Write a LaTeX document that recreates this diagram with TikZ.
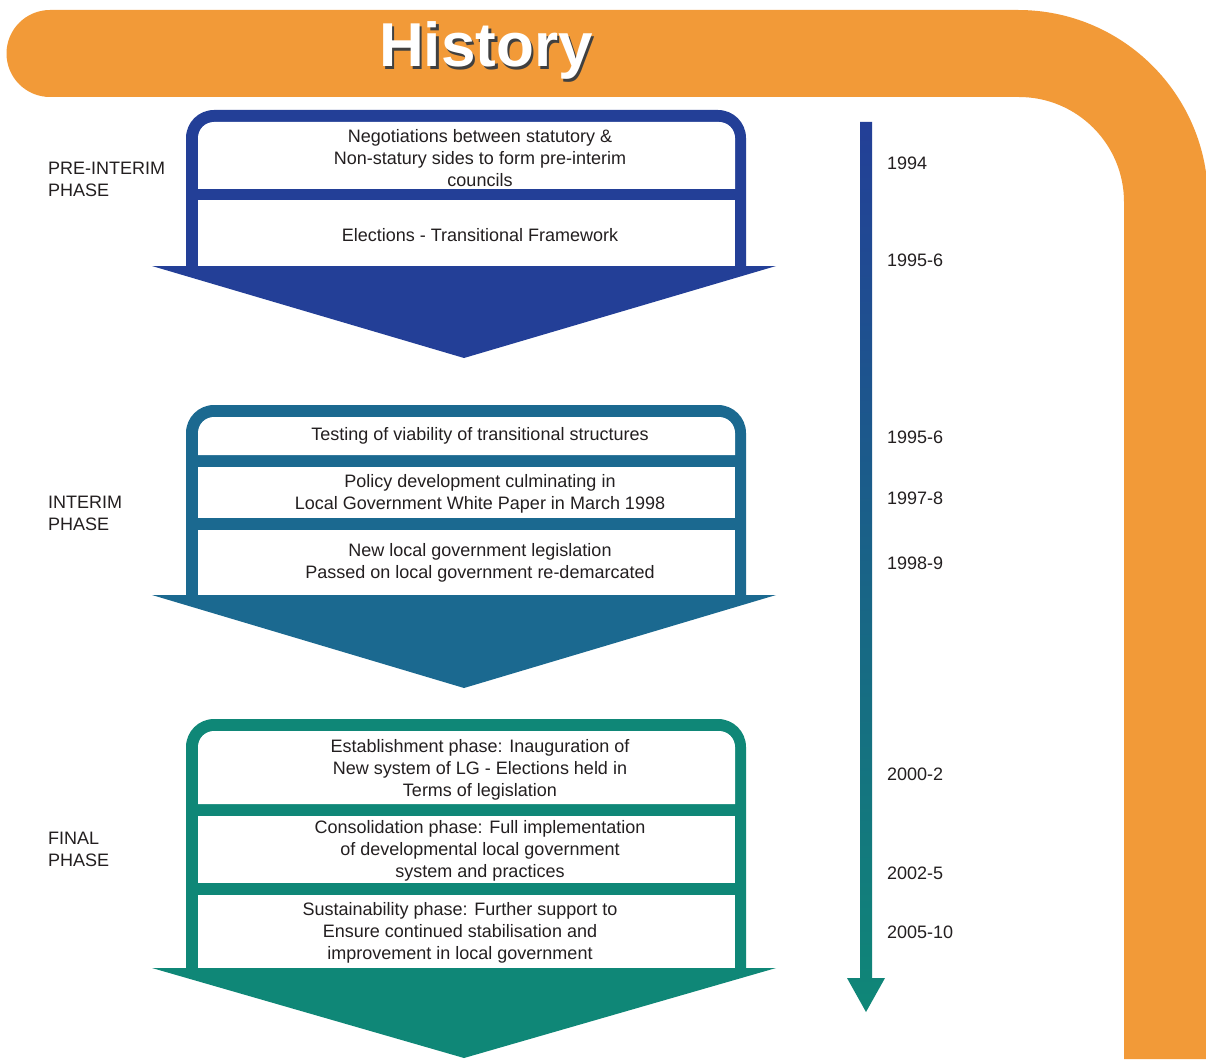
\documentclass[tikz,border=0pt]{standalone}
\usepackage{fontspec}
\setmainfont{Liberation Sans}
\definecolor{bandorange}{HTML}{F29A38}
\definecolor{phaseblue}{HTML}{233F97}
\definecolor{phasemid}{HTML}{1B6990}
\definecolor{phaseteal}{HTML}{0F8777}
\definecolor{inktext}{HTML}{231F20}

% outer frame (rounded top) plus the arrow head under it
% #1 colour, #2 top edge, #3 base of the head, #4 tip of the head
\newcommand\phaseframe[4]{%
  \fill[#1] (186,#3) -- (186,#2+28) arc[start angle=180,end angle=270,radius=28]
    -- (718,#2) arc[start angle=270,end angle=360,radius=28] -- (746,#3) -- cycle;
  \fill[#1] (152,#3) -- (776,#3) -- (464,#4) -- cycle;
}
% first white row, rounded at the top: #1 top, #2 bottom
\newcommand\toprow[2]{%
  \fill[white] (198,#2) -- (198,#1+16) arc[start angle=180,end angle=270,radius=16]
    -- (719,#1) arc[start angle=270,end angle=360,radius=16] -- (735,#2) -- cycle;
}
% plain white row: #1 top, #2 bottom
\newcommand\plainrow[2]{\fill[white] (198,#1) rectangle (735,#2);}
% white heading word with a dark drop shadow
\newcommand\shadowword[1]{%
  \rlap{\kern2.5pt\raisebox{-2.5pt}{\color{black!75}#1}}{\color{white}#1}}

\begin{document}
\begin{tikzpicture}[x=1pt,y=-1pt,
  rowtext/.style={text=inktext,align=center,inner sep=0pt,
    font=\fontsize{18}{22}\selectfont},
  phaselabel/.style={text=inktext,align=left,anchor=west,inner sep=0pt,
    font=\fontsize{18}{22}\selectfont},
  yearlabel/.style={text=inktext,anchor=west,inner sep=0pt,
    font=\fontsize{18}{22}\selectfont},
  titletext/.style={inner sep=0pt,font=\fontsize{62}{70}\bfseries\selectfont}]
\useasboundingbox (0,0) rectangle (1206,1059);
\fill[white] (0,0) rectangle (1206,1059);

% orange band: header bar bending down the right side
\fill[bandorange] (50,10) -- (1018,10) arc[start angle=270,end angle=360,radius=190]
  -- (1208,1059) -- (1124,1059) -- (1124,202) arc[start angle=0,end angle=-90,radius=105]
  -- (50,97) arc[start angle=90,end angle=270,radius=43.5] -- cycle;

\node[titletext] (title) at (486,52) {\shadowword{History}};

% timeline arrow
\shade[top color=phaseblue,bottom color=phaseteal]
  (860,122) -- (872,122) -- (872,978) -- (885,978) -- (866,1012)
  -- (847,978) -- (860,978) -- cycle;

% pre-interim phase
\phaseframe{phaseblue}{110}{266}{358}
\toprow{122}{189}
\plainrow{200}{266}
\node[rowtext] (neg) at (480,158) {Negotiations between statutory \&\\Non-statury sides to form pre-interim\\councils};
\node[rowtext] (elect) at (480,235) {Elections - Transitional Framework};

% interim phase
\phaseframe{phasemid}{405}{595}{688}
\toprow{417}{455}
\plainrow{467}{518}
\plainrow{530}{595}
\node[rowtext] (test) at (480,436) {Testing of viability of transitional structures};
\node[rowtext] (policy) at (480,494) {Policy development culminating in\\Local Government White Paper in March 1998};
\node[rowtext] (legis) at (480,563) {New local government legislation\\Passed on local government re-demarcated};

% final phase
\phaseframe{phaseteal}{719}{968}{1058}
\toprow{731}{804}
\plainrow{816}{883}
\plainrow{895}{968}
\node[rowtext] (estab) at (480,769.5) {Establishment phase: Inauguration of\\New system of LG - Elections held in\\Terms of legislation};
\node[rowtext] (consol) at (480,850.5) {Consolidation phase: Full implementation\\of developmental local government\\system and practices};
\node[rowtext] (sustain) at (460,933) {Sustainability phase: Further support to\\Ensure continued stabilisation and\\improvement in local government};

% phase names
\node[phaselabel] (preint) at (48,179) {PRE-INTERIM\\PHASE};
\node[phaselabel] (interim) at (48,513) {INTERIM\\PHASE};
\node[phaselabel] (final) at (48,849) {FINAL\\PHASE};

% years along the timeline
\node[yearlabel] (y1) at (887,163) {1994};
\node[yearlabel] (y2) at (887,260) {1995-6};
\node[yearlabel] (y3) at (887,437) {1995-6};
\node[yearlabel] (y4) at (887,498) {1997-8};
\node[yearlabel] (y5) at (887,563) {1998-9};
\node[yearlabel] (y6) at (887,774) {2000-2};
\node[yearlabel] (y7) at (887,873) {2002-5};
\node[yearlabel] (y8) at (887,932) {2005-10};
\end{tikzpicture}
\end{document}
